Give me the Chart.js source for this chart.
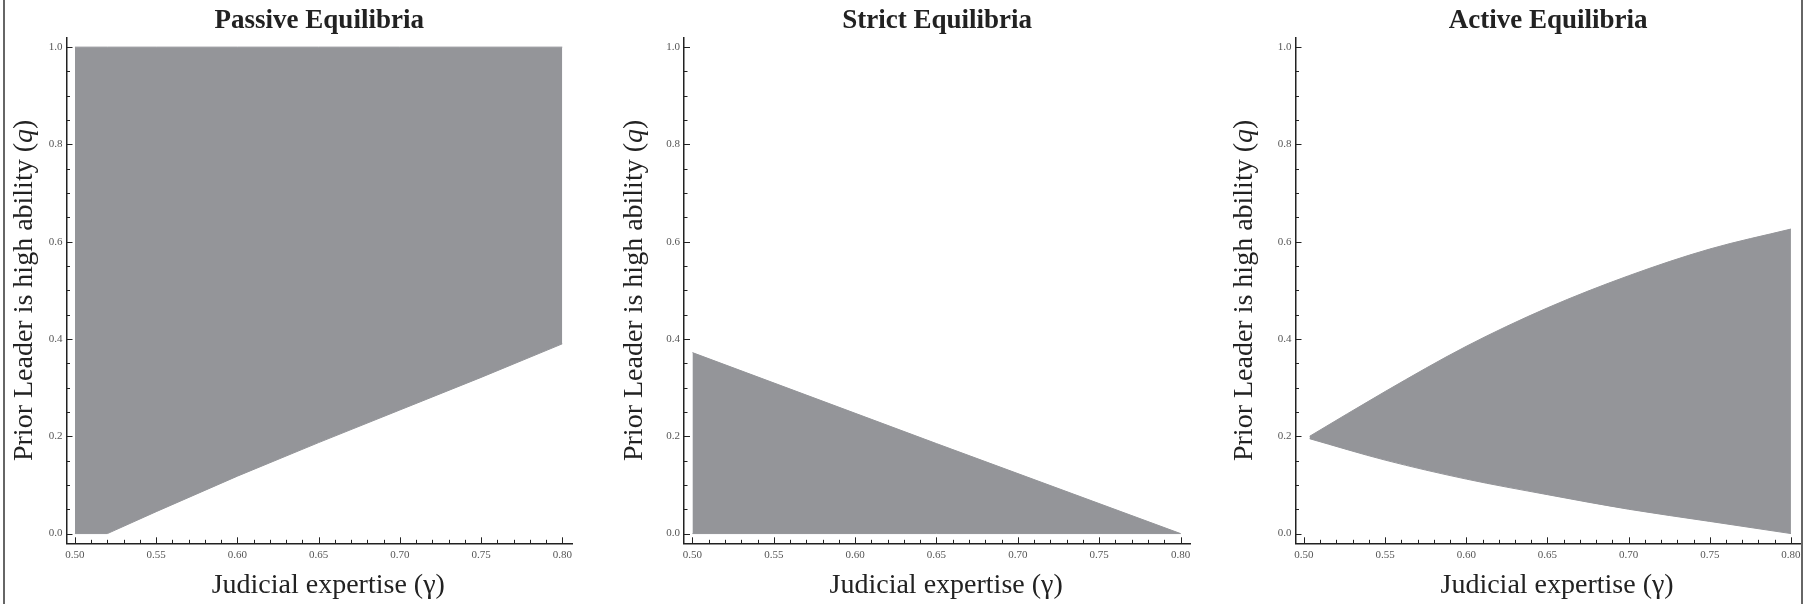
<!DOCTYPE html>
<html lang="en">
<head>
<meta charset="UTF-8">
<title>Equilibria</title>
<style>
  html, body { margin: 0; padding: 0; background: #fff; }
  #wrap { position: relative; width: 1810px; height: 604px; overflow: hidden; }
  #frame { position: absolute; left: 3px; top: 0; width: 1796px; height: 604px;
           border-left: 2px solid #666; border-right: 2px solid #666; }
  canvas { position: absolute; top: 0; }
</style>
</head>
<body>
<div id="wrap">
  <div id="frame"></div>
  <canvas id="passive" width="600" height="604" style="left:0px"></canvas>
  <canvas id="strict" width="610" height="604" style="left:600px"></canvas>
  <canvas id="active" width="600" height="604" style="left:1210px"></canvas>
</div>
<script src="https://cdn.jsdelivr.net/npm/chart.js"></script>
<script>
// tick values
const xTickValues = [0.50, 0.55, 0.60, 0.65, 0.70, 0.75, 0.80];
const yTickValues = [0.0, 0.2, 0.4, 0.6, 0.8, 1.0];

// Passive equilibria: q between lower boundary and 1
const passiveGamma = [0.50, 0.52, 0.55, 0.60, 0.65, 0.70, 0.75, 0.80];
const passiveUpper = [1.0, 1.0, 1.0, 1.0, 1.0, 1.0, 1.0, 1.0];
const passiveLower = [0.0, 0.0, 0.045, 0.118, 0.187, 0.254, 0.321, 0.390];

// Strict equilibria: q between 0 and a falling line
const strictGamma = [0.50, 0.65, 0.80];
const strictUpper = [0.372, 0.185, 0.0];
const strictLower = [0.0, 0.0, 0.0];

// Active equilibria: wedge opening to the right
const activeGamma = [0.5035, 0.55, 0.60, 0.65, 0.70, 0.75, 0.80];
const activeUpper = [0.200, 0.292, 0.385, 0.464, 0.530, 0.585, 0.626];
const activeLower = [0.195, 0.151, 0.112, 0.080, 0.050, 0.025, 0.0];

const xTitle = 'Judicial expertise (\u03b3)';
const yTitleParts = ['Prior Leader is high ability (', 'q', ')'];

const GRAY = '#949599';
const INK = '#222';
const SERIF = "'Liberation Serif', 'Times New Roman', serif";

Chart.defaults.font.family = SERIF;

function toPts(xs, ys) {
    return xs.map((x, i) => ({ x: x, y: ys[i] }));
}

// inward tick marks and the two axis titles
const decor = {
    id: 'decor',
    afterDraw(chart, args, opts) {
        const ctx = chart.ctx;
        const xs = chart.scales.x, ys = chart.scales.y;
        const area = chart.chartArea;
        ctx.save();
        ctx.strokeStyle = INK;
        ctx.lineWidth = 1;
        ctx.beginPath();
        for (let i = 0; i <= 30; i++) {
            const px = Math.round(xs.getPixelForValue(0.50 + i * 0.01)) + 0.5;
            const len = i % 5 === 0 ? 6 : 3.5;
            ctx.moveTo(px, area.bottom);
            ctx.lineTo(px, area.bottom - len);
        }
        for (let i = 0; i <= 20; i++) {
            const py = Math.round(ys.getPixelForValue(i * 0.05)) + 0.5;
            const len = i % 4 === 0 ? 6 : 3.5;
            ctx.moveTo(area.left, py);
            ctx.lineTo(area.left + len, py);
        }
        ctx.stroke();

        ctx.fillStyle = INK;
        ctx.textBaseline = 'alphabetic';
        ctx.font = '28px ' + SERIF;
        ctx.textAlign = 'center';
        ctx.fillText(xTitle, (area.left + area.right) / 2 + 9, 593);

        // rotated y title with italic q
        const fonts = ['28px ' + SERIF, 'italic 28px ' + SERIF, '28px ' + SERIF];
        let total = 0;
        const widths = yTitleParts.map((t, i) => {
            ctx.font = fonts[i];
            const w = ctx.measureText(t).width;
            total += w;
            return w;
        });
        ctx.translate(opts.yTitleX, (area.top + area.bottom) / 2);
        ctx.rotate(-Math.PI / 2);
        ctx.textAlign = 'left';
        let pos = -total / 2;
        yTitleParts.forEach((t, i) => {
            ctx.font = fonts[i];
            ctx.fillText(t, pos, 0);
            pos += widths[i];
        });
        ctx.restore();
    }
};

function makePanel(id, title, gamma, upper, lower, cfg) {
    const ctx = document.getElementById(id).getContext('2d');
    const ds = {
        pointRadius: 0,
        borderWidth: 1,
        borderColor: GRAY,
        backgroundColor: GRAY,
        cubicInterpolationMode: cfg.smooth ? 'monotone' : 'default',
        tension: 0
    };
    new Chart(ctx, {
        type: 'line',
        data: {
            datasets: [
                Object.assign({ data: toPts(gamma, upper), fill: '+1' }, ds),
                Object.assign({ data: toPts(gamma, lower), fill: false }, ds)
            ]
        },
        options: {
            responsive: false,
            animation: false,
            layout: { padding: { left: 0, right: cfg.padRight, top: 0, bottom: 0 } },
            plugins: {
                legend: { display: false },
                tooltip: { enabled: false },
                title: {
                    display: true,
                    text: title,
                    fullSize: false,
                    color: INK,
                    font: { size: 27, weight: 'bold', family: SERIF },
                    padding: { top: 5, bottom: 0 }
                },
                decor: { yTitleX: cfg.yTitleX }
            },
            scales: {
                x: {
                    type: 'linear',
                    min: 0.4948,
                    max: 0.806,
                    grid: { display: false, drawTicks: false },
                    border: { display: true, color: INK, width: 1.5 },
                    ticks: {
                        autoSkip: false,
                        maxRotation: 0,
                        padding: 5,
                        color: '#555',
                        font: { size: 11 },
                        callback: v => v.toFixed(2)
                    },
                    afterBuildTicks: s => { s.ticks = xTickValues.map(v => ({ value: v })); },
                    afterFit: s => { s.height = 604 - 543.3; }
                },
                y: {
                    type: 'linear',
                    min: -0.02,
                    max: 1.02,
                    grid: { display: false, drawTicks: false },
                    border: { display: true, color: INK, width: 1.5 },
                    ticks: {
                        autoSkip: false,
                        padding: 4,
                        color: '#555',
                        font: { size: 11 },
                        callback: v => v.toFixed(1)
                    },
                    afterBuildTicks: s => { s.ticks = yTickValues.map(v => ({ value: v })); },
                    afterFit: s => { s.width = cfg.axisX; }
                }
            }
        },
        plugins: [decor]
    });
}

makePanel('passive', 'Passive Equilibria', passiveGamma, passiveUpper, passiveLower,
    { axisX: 66.5, padRight: 28, yTitleX: 32, smooth: false });
makePanel('strict', 'Strict Equilibria', strictGamma, strictUpper, strictLower,
    { axisX: 84, padRight: 19.7, yTitleX: 41.5, smooth: false });
makePanel('active', 'Active Equilibria', activeGamma, activeUpper, activeLower,
    { axisX: 85.5, padRight: 9.3, yTitleX: 42, smooth: true });
</script>
</body>
</html>
